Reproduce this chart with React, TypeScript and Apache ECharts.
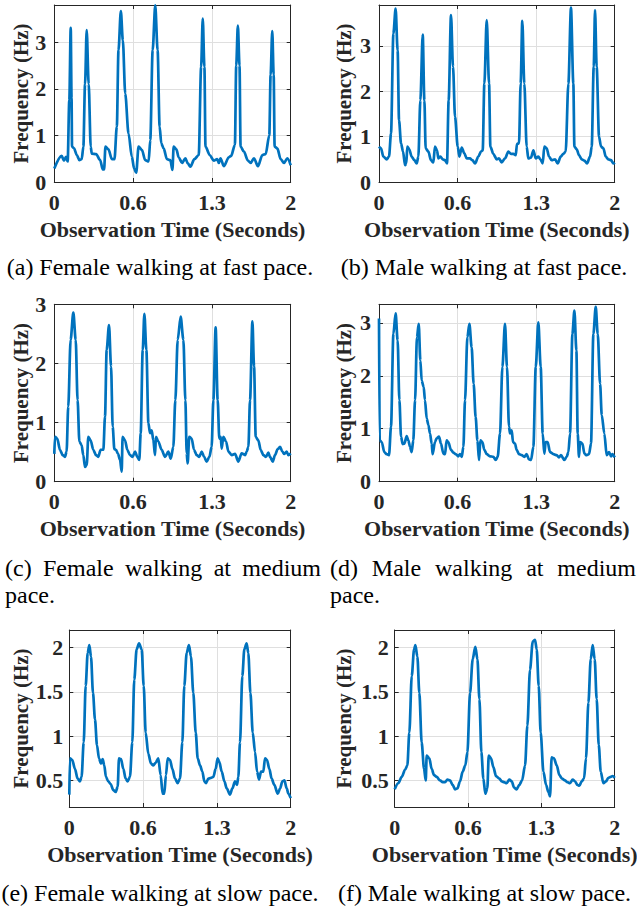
import React, { useEffect, useRef } from 'react';
import * as echarts from 'echarts';

const xTickLabels = ['0', '0.6', '1.3', '2'];
const yTitle = 'Frequency (Hz)';
const xTitle = 'Observation Time (Seconds)';

// (a) Female walking at fast pace
const femaleFast: number[][] = [
  [0, 0.29], [0.062, 0.56], [0.082, 0.46], [0.099, 0.54], [0.113, 0.44], [0.127, 1.76], [0.139, 3.31], [0.146, 1.8], [0.15, 0.76],
  [0.167, 0.72], [0.19, 0.58], [0.212, 0.47], [0.232, 0.49], [0.246, 0.76], [0.26, 2.1], [0.274, 3.26], [0.291, 2.1], [0.308, 0.76],
  [0.317, 0.61], [0.354, 0.6], [0.388, 0.47], [0.41, 0.27], [0.421, 0.27], [0.433, 0.76], [0.458, 0.7], [0.487, 0.49], [0.509, 0.49],
  [0.529, 1.19], [0.543, 2.83], [0.563, 3.67], [0.58, 3.04], [0.6, 1.9], [0.628, 1.04], [0.656, 0.54], [0.676, 0.28], [0.693, 0.2],
  [0.713, 0.76], [0.741, 0.69], [0.769, 0.47], [0.798, 0.44], [0.812, 0.9], [0.832, 2.83], [0.854, 3.79], [0.874, 2.83], [0.891, 1.19],
  [0.905, 0.83], [0.925, 0.72], [0.953, 0.49], [0.982, 0.47], [0.999, 0.26], [1.01, 0.76], [1.033, 0.7], [1.052, 0.53], [1.081, 0.41],
  [1.109, 0.51], [1.129, 0.4], [1.151, 0.33], [1.185, 0.49], [1.222, 0.58], [1.242, 2.47], [1.256, 3.51], [1.27, 2.47], [1.279, 0.76],
  [1.315, 0.58], [1.349, 0.46], [1.378, 0.49], [1.392, 0.41], [1.406, 0.51], [1.434, 0.34], [1.477, 0.53], [1.496, 0.56], [1.528, 0.8],
  [1.539, 2.5], [1.553, 3.36], [1.567, 2.5], [1.576, 0.76], [1.604, 0.65], [1.638, 0.46], [1.661, 0.41], [1.689, 0.51], [1.723, 0.34],
  [1.76, 0.58], [1.788, 0.6], [1.819, 1.0], [1.83, 2.3], [1.844, 3.24], [1.856, 2.3], [1.864, 0.76], [1.887, 0.72], [1.915, 0.49],
  [1.943, 0.41], [1.972, 0.51], [2.0, 0.36],
];

// (b) Male walking at fast pace
const maleFast: number[][] = [
  [0, 0.78], [0.017, 0.74], [0.037, 0.56], [0.065, 0.5], [0.085, 0.56], [0.102, 1.07], [0.122, 3.27], [0.141, 3.82], [0.158, 2.9],
  [0.17, 1.36], [0.187, 0.85], [0.204, 0.67], [0.221, 0.37], [0.232, 0.41], [0.24, 0.78], [0.257, 0.72], [0.277, 0.56], [0.3, 0.48],
  [0.32, 0.41], [0.334, 0.56], [0.351, 1.8], [0.371, 3.25], [0.385, 1.8], [0.396, 0.74], [0.419, 0.67], [0.441, 0.48], [0.461, 0.43],
  [0.475, 0.78], [0.492, 0.7], [0.504, 0.52], [0.521, 0.56], [0.54, 0.5], [0.56, 0.48], [0.577, 0.41], [0.591, 1.8], [0.611, 3.68],
  [0.628, 2.54], [0.645, 1.44], [0.668, 0.78], [0.682, 0.56], [0.702, 0.76], [0.724, 0.63], [0.744, 0.52], [0.772, 0.52], [0.792, 0.48],
  [0.815, 0.41], [0.843, 0.56], [0.866, 0.67], [0.88, 0.7], [0.894, 2.17], [0.914, 3.57], [0.934, 2.17], [0.945, 0.78], [0.97, 0.62],
  [0.999, 0.5], [1.018, 0.52], [1.041, 0.43], [1.069, 0.52], [1.098, 0.67], [1.12, 0.62], [1.14, 0.62], [1.16, 0.59], [1.171, 0.84],
  [1.188, 0.85], [1.202, 2.17], [1.216, 3.55], [1.233, 2.17], [1.253, 0.78], [1.267, 0.52], [1.29, 0.54], [1.31, 0.7], [1.33, 0.52],
  [1.352, 0.56], [1.369, 0.5], [1.389, 0.41], [1.403, 0.78], [1.423, 0.74], [1.443, 0.56], [1.465, 0.48], [1.494, 0.5], [1.516, 0.41],
  [1.542, 0.56], [1.564, 0.62], [1.584, 0.67], [1.607, 2.17], [1.629, 3.84], [1.649, 2.17], [1.658, 0.78], [1.678, 0.72], [1.697, 0.59],
  [1.72, 0.5], [1.743, 0.47], [1.765, 0.41], [1.791, 0.56], [1.805, 0.78], [1.822, 2.54], [1.833, 3.79], [1.847, 2.54], [1.867, 1.0],
  [1.884, 0.78], [1.904, 0.74], [1.924, 0.56], [1.946, 0.5], [1.969, 0.48], [1.989, 0.41], [2.0, 0.43],
];

// (c) Female walking at medium pace
const femaleMedium: number[][] = [
  [0, 0.47], [0.006, 0.76], [0.025, 0.73], [0.048, 0.54], [0.071, 0.45], [0.09, 0.42], [0.104, 0.51], [0.118, 1.27], [0.138, 2.4],
  [0.161, 2.86], [0.181, 2.4], [0.197, 1.38], [0.212, 0.68], [0.231, 0.62], [0.245, 0.45], [0.26, 0.25], [0.274, 0.28], [0.288, 0.76],
  [0.307, 0.7], [0.33, 0.54], [0.353, 0.45], [0.372, 0.42], [0.392, 0.54], [0.415, 0.54], [0.429, 1.1], [0.443, 2.23], [0.463, 2.65],
  [0.48, 1.95], [0.494, 0.93], [0.508, 0.55], [0.522, 0.54], [0.539, 0.47], [0.556, 0.37], [0.57, 0.17], [0.578, 0.76], [0.598, 0.7],
  [0.618, 0.54], [0.64, 0.45], [0.663, 0.42], [0.683, 0.51], [0.702, 0.42], [0.719, 0.37], [0.731, 0.82], [0.748, 2.23], [0.762, 2.84],
  [0.779, 2.23], [0.796, 0.99], [0.81, 0.82], [0.824, 0.87], [0.838, 0.7], [0.852, 0.45], [0.86, 0.76], [0.88, 0.68], [0.908, 0.54],
  [0.937, 0.42], [0.965, 0.51], [0.985, 0.39], [1.007, 0.59], [1.024, 1.38], [1.044, 2.4], [1.069, 2.79], [1.092, 2.4], [1.109, 1.38],
  [1.12, 0.48], [1.128, 0.31], [1.142, 0.76], [1.162, 0.73], [1.182, 0.54], [1.205, 0.45], [1.227, 0.42], [1.247, 0.51], [1.267, 0.42],
  [1.289, 0.34], [1.312, 0.42], [1.331, 0.59], [1.346, 1.38], [1.365, 2.61], [1.382, 1.38], [1.396, 0.73], [1.408, 0.76], [1.416, 0.56],
  [1.43, 0.76], [1.453, 0.68], [1.473, 0.51], [1.501, 0.45], [1.529, 0.47], [1.557, 0.34], [1.585, 0.48], [1.614, 0.45], [1.628, 0.51],
  [1.642, 0.59], [1.656, 1.38], [1.676, 2.71], [1.69, 1.95], [1.704, 0.76], [1.726, 0.7], [1.746, 0.54], [1.769, 0.45], [1.791, 0.42],
  [1.811, 0.49], [1.825, 0.42], [1.848, 0.34], [1.867, 0.45], [1.89, 0.55], [1.91, 0.59], [1.929, 0.51], [1.946, 0.47], [1.966, 0.51],
  [1.98, 0.45], [2.0, 0.48],
];

// (d) Male walking at medium pace
const maleMedium: number[][] = [
  [0, 3.08], [0.006, 0.78], [0.023, 0.75], [0.045, 0.56], [0.065, 0.52], [0.085, 0.5], [0.102, 1.04], [0.122, 2.79], [0.141, 3.18],
  [0.158, 2.67], [0.173, 1.54], [0.187, 0.85], [0.201, 0.71], [0.215, 0.72], [0.235, 0.86], [0.249, 0.78], [0.263, 0.66], [0.277, 0.56],
  [0.291, 0.78], [0.306, 1.54], [0.322, 2.73], [0.337, 2.98], [0.351, 2.29], [0.362, 1.91], [0.379, 1.79], [0.39, 1.54], [0.405, 1.19],
  [0.419, 1.07], [0.433, 0.91], [0.447, 0.72], [0.455, 0.52], [0.475, 0.75], [0.489, 0.82], [0.509, 0.85], [0.526, 0.72], [0.546, 0.53],
  [0.56, 0.52], [0.574, 0.78], [0.588, 0.75], [0.611, 0.6], [0.631, 0.55], [0.651, 0.52], [0.673, 0.48], [0.687, 0.52], [0.702, 0.47],
  [0.716, 0.66], [0.73, 1.54], [0.75, 2.73], [0.767, 2.98], [0.786, 2.54], [0.803, 1.85], [0.82, 1.22], [0.835, 0.78], [0.849, 0.41],
  [0.86, 0.78], [0.877, 0.75], [0.894, 0.6], [0.914, 0.52], [0.942, 0.48], [0.97, 0.47], [0.99, 0.41], [1.007, 0.47], [1.027, 0.91],
  [1.047, 2.17], [1.069, 2.98], [1.086, 2.17], [1.103, 1.04], [1.112, 0.91], [1.126, 0.97], [1.137, 0.75], [1.154, 0.72], [1.168, 0.6],
  [1.188, 0.52], [1.211, 0.5], [1.233, 0.47], [1.253, 0.52], [1.273, 0.42], [1.29, 0.41], [1.31, 0.66], [1.33, 2.17], [1.352, 3.01],
  [1.372, 2.17], [1.389, 0.91], [1.403, 0.53], [1.414, 0.75], [1.431, 0.75], [1.451, 0.56], [1.48, 0.52], [1.508, 0.5], [1.527, 0.46],
  [1.544, 0.5], [1.573, 0.41], [1.593, 0.47], [1.607, 0.56], [1.621, 0.91], [1.641, 2.79], [1.658, 3.23], [1.675, 2.48], [1.686, 0.91],
  [1.697, 0.47], [1.706, 0.75], [1.726, 0.72], [1.743, 0.53], [1.762, 0.5], [1.782, 0.52], [1.799, 0.72], [1.819, 2.79], [1.839, 3.3],
  [1.856, 2.79], [1.876, 1.85], [1.89, 1.26], [1.912, 0.91], [1.932, 0.5], [1.952, 0.56], [1.969, 0.48], [1.98, 0.52], [2.0, 0.46],
];

// (e) Female walking at slow pace
const femaleSlow: number[][] = [
  [0, 0.34], [0.006, 0.75], [0.027, 0.73], [0.051, 0.63], [0.075, 0.52], [0.096, 0.49], [0.111, 0.54], [0.13, 0.93], [0.148, 1.57],
  [0.166, 1.94], [0.181, 2.03], [0.196, 1.9], [0.214, 1.49], [0.232, 1.19], [0.25, 0.9], [0.268, 0.75], [0.286, 0.69], [0.301, 0.74],
  [0.316, 0.67], [0.331, 0.54], [0.352, 0.49], [0.373, 0.46], [0.398, 0.39], [0.419, 0.37], [0.437, 0.43], [0.449, 0.75], [0.467, 0.74],
  [0.488, 0.63], [0.509, 0.52], [0.527, 0.49], [0.548, 0.54], [0.569, 0.93], [0.587, 1.64], [0.608, 1.98], [0.63, 2.05], [0.654, 1.98],
  [0.672, 1.57], [0.69, 1.04], [0.714, 0.8], [0.738, 0.69], [0.759, 0.67], [0.78, 0.7], [0.804, 0.75], [0.825, 0.56], [0.843, 0.35],
  [0.858, 0.35], [0.873, 0.56], [0.889, 0.75], [0.91, 0.73], [0.931, 0.63], [0.955, 0.52], [0.979, 0.47], [1.0, 0.52], [1.021, 0.93],
  [1.039, 1.57], [1.06, 1.94], [1.081, 2.03], [1.099, 1.9], [1.12, 1.49], [1.142, 1.04], [1.16, 0.75], [1.181, 0.67], [1.202, 0.6],
  [1.22, 0.49], [1.235, 0.47], [1.256, 0.52], [1.28, 0.53], [1.301, 0.54], [1.322, 0.63], [1.34, 0.75], [1.355, 0.71], [1.377, 0.6],
  [1.401, 0.49], [1.422, 0.41], [1.452, 0.34], [1.473, 0.41], [1.497, 0.49], [1.515, 0.45], [1.527, 0.54], [1.542, 0.93], [1.563, 1.68],
  [1.581, 1.98], [1.602, 2.05], [1.617, 1.94], [1.636, 1.49], [1.657, 1.04], [1.678, 0.82], [1.696, 0.6], [1.714, 0.51], [1.732, 0.6],
  [1.753, 0.6], [1.768, 0.75], [1.786, 0.73], [1.807, 0.63], [1.828, 0.52], [1.852, 0.45], [1.883, 0.35], [1.904, 0.41], [1.925, 0.49],
  [1.943, 0.5], [1.964, 0.41], [1.979, 0.35], [2.0, 0.3],
];

// (f) Male walking at slow pace
const maleSlow: number[][] = [
  [0, 0.4], [0.033, 0.47], [0.064, 0.54], [0.094, 0.62], [0.115, 0.67], [0.133, 1.04], [0.155, 1.68], [0.176, 1.98], [0.188, 2.03],
  [0.206, 1.9], [0.224, 1.49], [0.245, 0.93], [0.267, 0.63], [0.282, 0.5], [0.291, 0.78], [0.315, 0.75], [0.336, 0.63], [0.358, 0.56],
  [0.382, 0.54], [0.412, 0.5], [0.436, 0.48], [0.458, 0.48], [0.479, 0.51], [0.503, 0.5], [0.527, 0.45], [0.548, 0.4], [0.57, 0.41],
  [0.594, 0.49], [0.618, 0.6], [0.642, 0.67], [0.661, 0.82], [0.685, 1.49], [0.709, 1.87], [0.733, 2.01], [0.752, 1.87], [0.77, 1.42],
  [0.788, 0.82], [0.806, 0.52], [0.824, 0.35], [0.842, 0.41], [0.855, 0.78], [0.876, 0.75], [0.897, 0.65], [0.921, 0.55], [0.952, 0.52],
  [0.973, 0.49], [0.994, 0.48], [1.018, 0.47], [1.042, 0.51], [1.064, 0.49], [1.085, 0.42], [1.109, 0.4], [1.133, 0.45], [1.158, 0.5],
  [1.185, 0.67], [1.206, 1.12], [1.23, 1.75], [1.255, 2.07], [1.276, 2.09], [1.291, 1.98], [1.309, 1.57], [1.327, 1.04], [1.352, 0.6],
  [1.376, 0.45], [1.397, 0.37], [1.412, 0.32], [1.427, 0.76], [1.448, 0.75], [1.473, 0.67], [1.497, 0.56], [1.521, 0.52], [1.548, 0.5],
  [1.57, 0.48], [1.594, 0.47], [1.618, 0.51], [1.639, 0.49], [1.661, 0.45], [1.679, 0.44], [1.7, 0.49], [1.721, 0.52], [1.739, 0.75],
  [1.761, 1.38], [1.782, 1.87], [1.8, 2.03], [1.818, 1.87], [1.836, 1.42], [1.855, 0.9], [1.873, 0.6], [1.897, 0.47], [1.921, 0.49],
  [1.942, 0.53], [1.964, 0.54], [1.982, 0.55], [2.0, 0.53],
];

const captionA = '(a) Female walking at fast pace.';
const captionB = '(b) Male walking at fast pace.';
const captionC = ['(c)', 'Female', 'walking', 'at', 'medium'];
const captionD = ['(d)', 'Male', 'walking', 'at', 'medium'];
const captionTail = 'pace.';
const captionE = '(e) Female walking at slow pace.';
const captionF = '(f) Male walking at slow pace.';

const AXIS = '#262626';
const GRIDC = '#dfdfdf';
const LINE = '#0072BD';
const SERIF = '"Liberation Serif", "Times New Roman", serif';

export default function App() {
  const ref = useRef<HTMLDivElement>(null);
  useEffect(() => {
    document.body.style.margin = '0';
    const chart = echarts.init(ref.current!, null, { renderer: 'svg' });

    const panels = [
      { data: femaleFast, left: 54.3, top: 5, width: 236.4, height: 177, yMin: 0, yMax: 3.8, step: 1, nameGap: 23, lm: 8 },
      { data: maleFast, left: 379, top: 5, width: 235.7, height: 177, yMin: 0, yMax: 3.9, step: 1, nameGap: 25, lm: 8 },
      { data: femaleMedium, left: 54.3, top: 304.3, width: 236.4, height: 177.4, yMin: 0, yMax: 3, step: 1, nameGap: 23, lm: 8 },
      { data: maleMedium, left: 379, top: 304.3, width: 235.7, height: 177.4, yMin: 0, yMax: 3.35, step: 1, nameGap: 25, lm: 8 },
      { data: femaleSlow, left: 69.3, top: 630, width: 221.4, height: 177, yMin: 0.2, yMax: 2.2, step: 0.5, nameGap: 38, lm: 6 },
      { data: maleSlow, left: 394.7, top: 630, width: 220, height: 177, yMin: 0.2, yMax: 2.2, step: 0.5, nameGap: 40, lm: 6 },
    ];

    const tickFont = { color: AXIS, fontFamily: SERIF, fontWeight: 'bold' as const, fontSize: 22 };
    const xNameFont = { color: AXIS, fontFamily: SERIF, fontWeight: 'bold' as const, fontSize: 22 };
    const yNameFont = { color: AXIS, fontFamily: SERIF, fontWeight: 'bold' as const, fontSize: 21 };
    const tick = { show: true, inside: true, length: 4, lineStyle: { color: AXIS, width: 1 } };
    const aLine = { show: true, onZero: false, lineStyle: { color: AXIS, width: 1 } };

    const grid: any[] = [];
    const xAxis: any[] = [];
    const yAxis: any[] = [];
    const series: any[] = [];

    panels.forEach((p, i) => {
      grid.push({ left: p.left, top: p.top, width: p.width, height: p.height, containLabel: false, outerBoundsMode: 'none' });
      const xBase = { type: 'value', gridIndex: i, min: 0, max: 2, interval: 2 / 3, axisLine: aLine, axisTick: tick };
      xAxis.push({
        ...xBase,
        position: 'bottom',
        axisLabel: { ...tickFont, margin: 9, formatter: (v: number) => xTickLabels[Math.round(v * 1.5)] ?? '' },
        splitLine: { show: true, lineStyle: { color: GRIDC, width: 1 } },
        name: xTitle,
        nameLocation: 'middle',
        nameGap: 36,
        nameTextStyle: xNameFont,
      });
      xAxis.push({ ...xBase, position: 'top', axisLabel: { show: false }, splitLine: { show: false } });

      const yScale: any = { type: 'value', gridIndex: i, min: p.yMin, max: p.yMax };
      if (p.yMin % p.step === 0) yScale.interval = p.step;
      else yScale.splitNumber = 4;
      const fmt = (v: number) => {
        const k = v / p.step;
        return Math.abs(k - Math.round(k)) < 1e-6 ? String(Math.round(k) * p.step) : '';
      };
      yAxis.push({
        ...yScale,
        position: 'left',
        axisLine: aLine,
        axisTick: tick,
        axisLabel: { ...tickFont, margin: p.lm, formatter: fmt },
        splitLine: { show: true, lineStyle: { color: GRIDC, width: 1 } },
        name: yTitle,
        nameLocation: 'middle',
        nameGap: p.nameGap,
        nameTextStyle: yNameFont,
      });
      yAxis.push({ ...yScale, position: 'right', axisLine: aLine, axisTick: tick, axisLabel: { show: false }, splitLine: { show: false } });

      series.push({
        type: 'line',
        xAxisIndex: 2 * i,
        yAxisIndex: 2 * i,
        data: p.data,
        showSymbol: false,
        smooth: 0.3,
        smoothMonotone: 'x',
        lineStyle: { color: LINE, width: 2.7 },
        itemStyle: { color: LINE },
        clip: true,
      });
    });

    const capFontSize = 24;
    const ctx = document.createElement('canvas').getContext('2d')!;
    ctx.font = `${capFontSize}px "Liberation Serif"`;
    const textEl = (text: string, x: number, y: number, align: string) => ({
      type: 'text',
      x,
      y,
      style: { text, fontFamily: SERIF, fontSize: capFontSize, fill: '#000', textAlign: align, textVerticalAlign: 'middle' },
    });
    const justify = (words: string[], x0: number, x1: number, y: number) => {
      const ws = words.map((w) => ctx.measureText(w).width);
      const total = ws.reduce((a, b) => a + b, 0);
      const gap = (x1 - x0 - total) / (words.length - 1);
      let x = x0;
      return words.map((w, k) => {
        const el = textEl(w, x, y, 'left');
        x += ws[k] + gap;
        return el;
      });
    };

    const graphic = [
      textEl(captionA, 160, 267, 'center'),
      textEl(captionB, 484, 267, 'center'),
      ...justify(captionC, 5, 321, 568),
      textEl(captionTail, 5, 595, 'left'),
      ...justify(captionD, 330, 636, 568),
      textEl(captionTail, 330, 595, 'left'),
      textEl(captionE, 160, 893, 'center'),
      textEl(captionF, 484.5, 893, 'center'),
    ];

    chart.setOption({
      animation: false,
      backgroundColor: '#ffffff',
      grid,
      xAxis,
      yAxis,
      series,
      graphic,
    });
    return () => chart.dispose();
  }, []);
  return <div ref={ref} style={{ width: 637, height: 909 }} />;
}
